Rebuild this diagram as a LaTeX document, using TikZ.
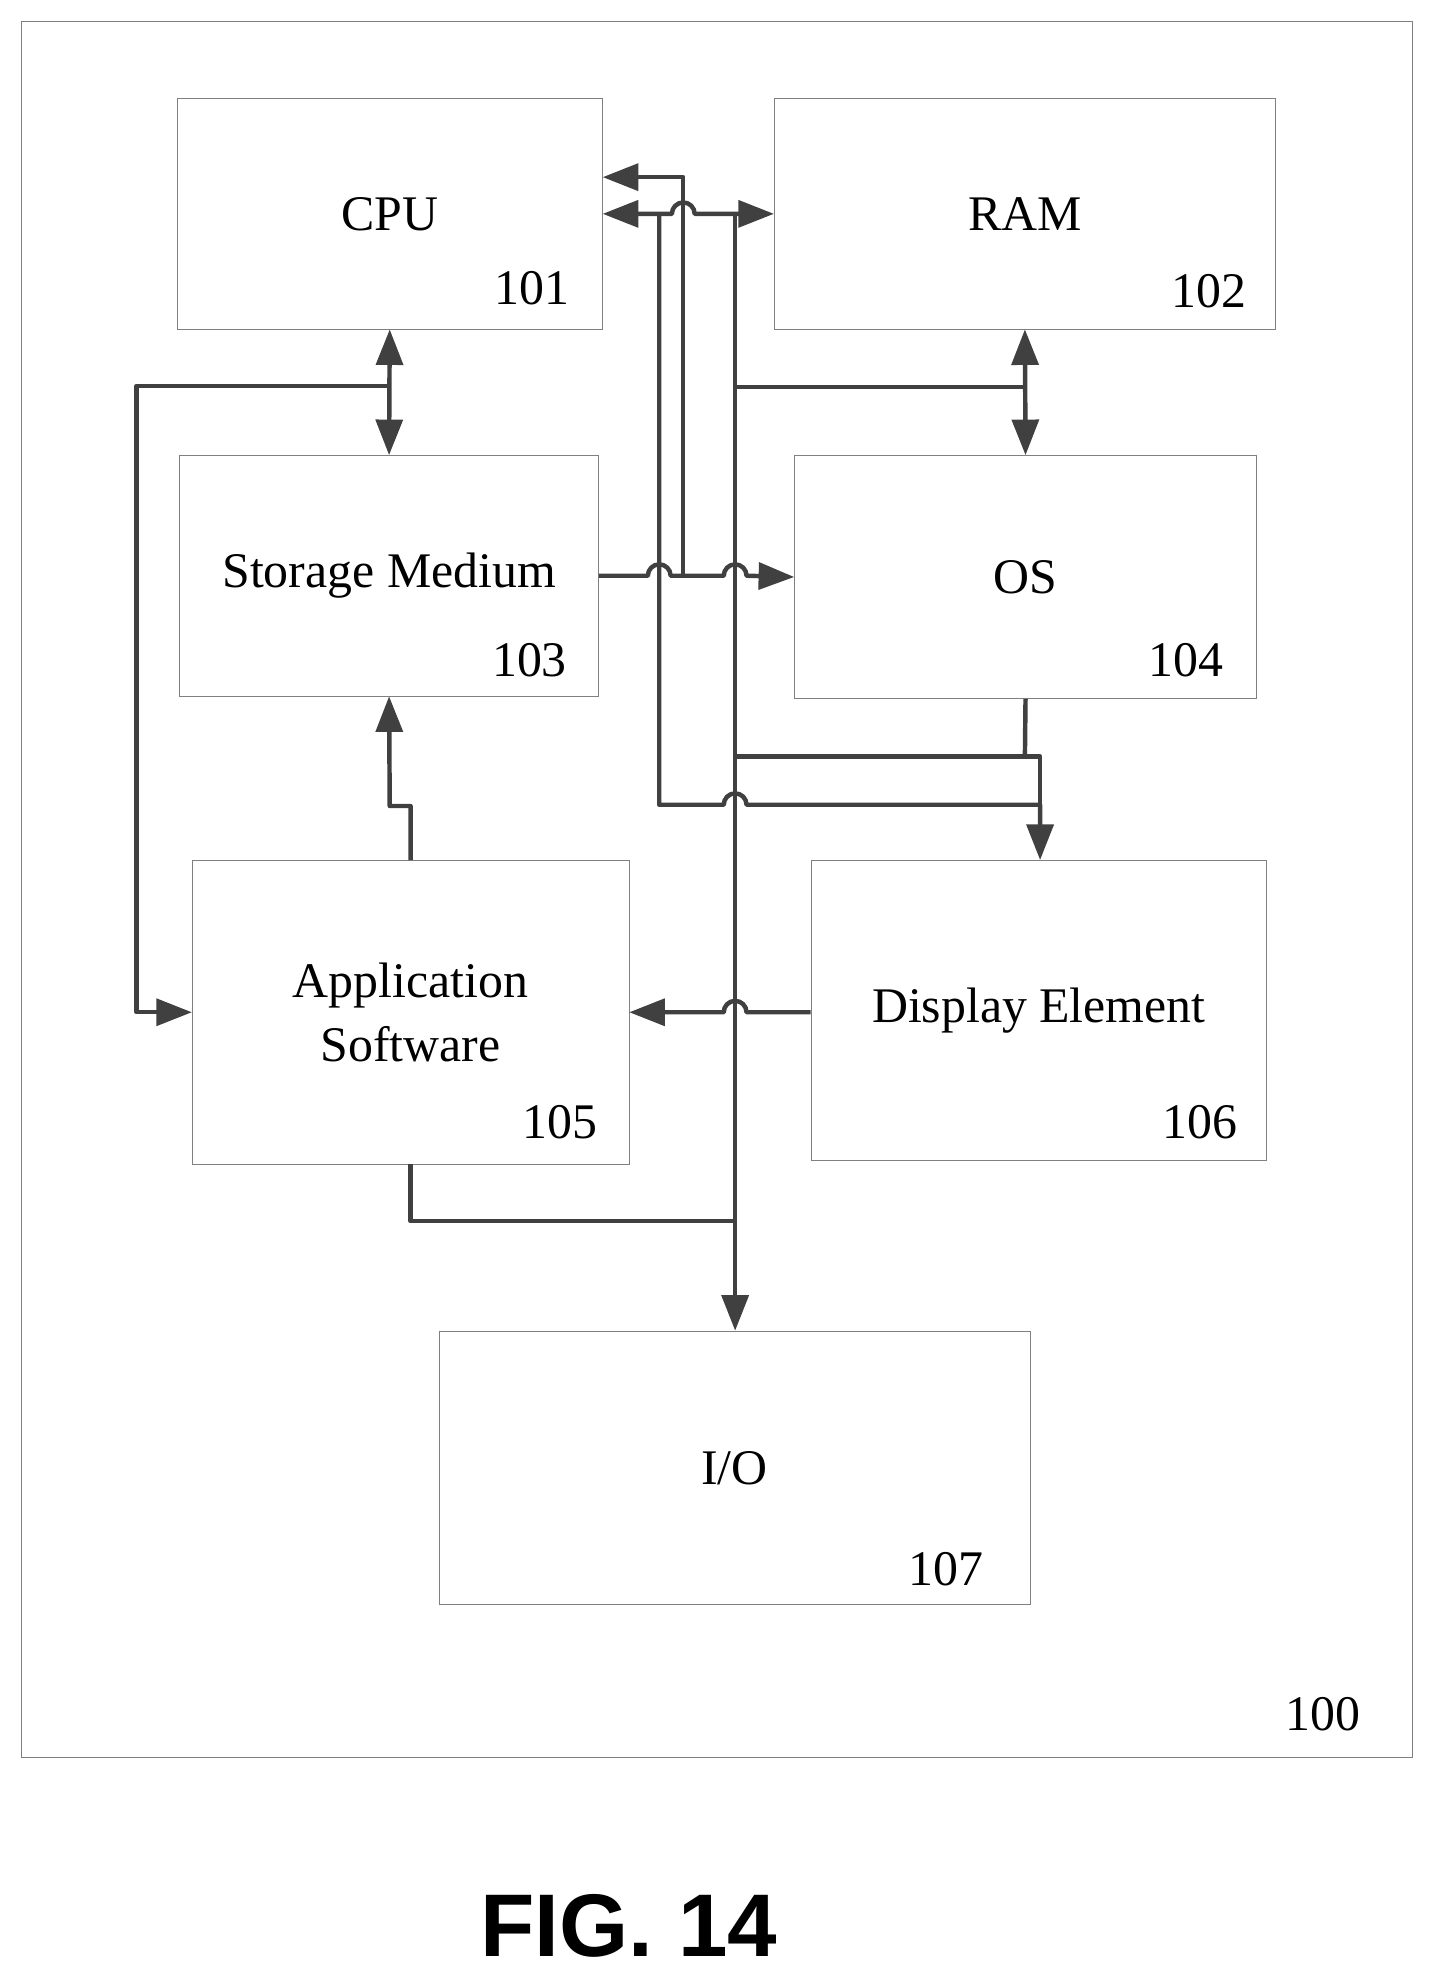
\documentclass[tikz,border=0pt]{standalone}
\usepackage{fontspec}
\setmainfont{Liberation Serif}
\setsansfont{Liberation Sans}
\usetikzlibrary{arrows.meta}
\tikzset{
  blk/.style={draw=gray, thin, fill=white, font=\fontsize{28}{36}\selectfont, align=center},
  num/.style={font=\fontsize{28}{34}\selectfont, anchor=east},
  link/.style={draw=black!75, line width=2.5pt, line join=round,
    arrows={-}, >={Triangle[length=20pt,width=15pt]}},
}
\begin{document}
\begin{tikzpicture}[x=0.025cm,y=-0.025cm]
\useasboundingbox (0,0) rectangle (1134,1568);
\draw[gray, thin] (17,17) rectangle (1116,1389);
\node[num] (n100) at (1080,1355) {100};

\node[blk, minimum width=8.4cm, minimum height=4.55cm] (cpu) at (308,169) {CPU};
\node[blk, minimum width=9.9cm, minimum height=4.55cm] (ram) at (810,169) {RAM};
\node[blk, minimum width=8.275cm, minimum height=4.75cm] (stor) at (307.5,455) {Storage Medium};
\node[blk, minimum width=9.125cm, minimum height=4.8cm] (os) at (810.5,456) {OS};
\node[blk, minimum width=8.625cm, minimum height=6cm] (app) at (324.5,800) {Application\\Software};
\node[blk, minimum width=9cm, minimum height=5.925cm] (disp) at (821,798.5) {Display Element};
\node[blk, minimum width=11.675cm, minimum height=5.4cm] (io) at (580.5,1160) {I/O};

\node[num] (n101) at (455,228) {101};
\node[num] (n102) at (990,230) {102};
\node[num] (n103) at (453,522) {103};
\node[num] (n104) at (972,522) {104};
\node[num] (n105) at (477,887) {105};
\node[num] (n106) at (983,887) {106};
\node[num] (n107) at (782,1240) {107};

\node[font=\sffamily\bfseries\fontsize{50}{56}\selectfont] (fig) at (497,1522) {FIG. 14};

% bus junctions
\coordinate (cpuTop) at (540,140);
\coordinate (jS) at (540,455);
\coordinate (jB) at (521,169);
\coordinate (jC) at (581,169);
\coordinate (jL) at (308,305);
\coordinate (jR) at (581,306);
\coordinate (jO) at (581,598);
\coordinate (jD) at (822,636);
\coordinate (jA) at (581,965);

\draw[link,<->] (cpu.south) -- (stor.north);
\draw[link,->] (jL) -- (108,305) -- (108,800) -- (app.west);
\draw[link,->] (app.north) -- (324.5,637) -- (308,637) -- (stor.south);

\draw[link,->] (stor.east) -- (512,455) arc (180:0:0.225cm) -- (jS) -- (572,455) arc (180:0:0.225cm) -- (os.west);
\draw[link,->] (jS) -- (cpuTop) -- (cpu.east |- cpuTop);
\draw[link,<->] (cpu.east) -- (531,169) arc (180:0:0.225cm) -- (ram.west);
\draw[link,->] (jB) -- (521,636) -- (572,636) arc (180:0:0.225cm) -- (jD) -- (disp.north -| jD);
\draw[link,->] (jC) -- (io.north -| jC);
\draw[link] (jR) -- (811,306);
\draw[link,<->] (ram.south) -- (os.north);
\draw[link] (os.south) -- (810,598);
\draw[link] (jO) -- (822,598) -- (jD);
\draw[link,->] (disp.west |- app.east) -- (590,800) arc (0:180:0.225cm) -- (app.east);
\draw[link] (app.south) -- (324.5,965) -- (jA);
\end{tikzpicture}
\end{document}
